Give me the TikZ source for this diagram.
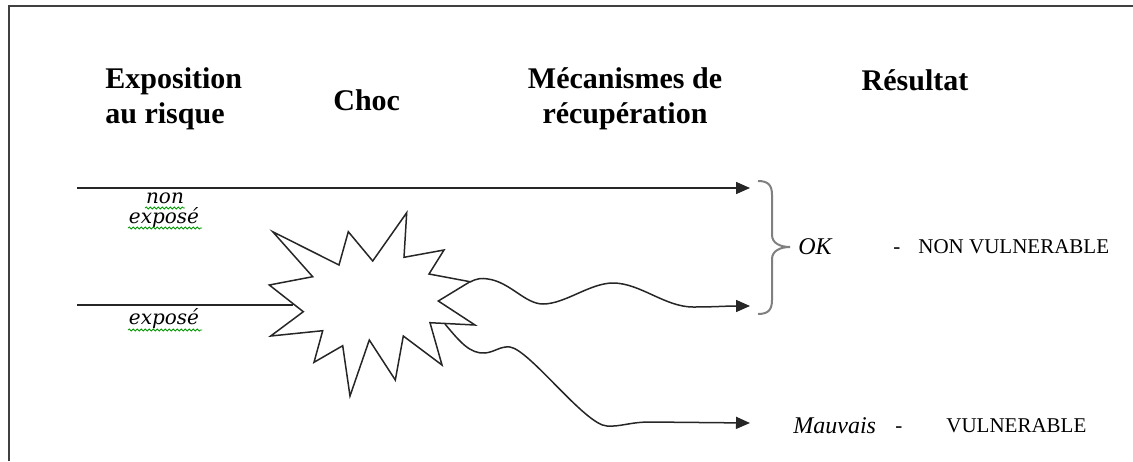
\documentclass[tikz,border=0pt]{standalone}
\usepackage{fontspec}
\setmainfont{Liberation Serif}
\newfontfamily\labfont{DejaVu Serif}
\usetikzlibrary{arrows.meta,decorations.pathmorphing}
\begin{document}
\begin{tikzpicture}[x=0.5pt,y=-0.5pt,
  conn/.style={line width=0.75pt, draw=black!85, line join=miter},
  arr/.style={conn,-{Triangle[length=7pt,width=6pt]}},
  head/.style={font=\bfseries\fontsize{15}{17}\selectfont, inner sep=0},
  lab/.style={font=\labfont\itshape\fontsize{10}{12}\selectfont, inner sep=0},
  res/.style={font=\fontsize{10.5}{12}\selectfont, inner sep=0},
  resit/.style={font=\itshape\fontsize{12}{14}\selectfont, inner sep=0},
  squig/.style={draw=green!60!black, line width=0.4pt, decorate, decoration={snake, amplitude=0.5pt, segment length=2pt}},
  bracestyle/.style={line width=1pt, draw=black!50}]

\useasboundingbox (0,0) rectangle (1133,461);
\draw[line width=1pt, draw=black!75] (8.5,461) -- (8.5,6) -- (1133,6);

% headings
\node[head, anchor=base west] (exp1) at (105,88) {Exposition};
\node[head, anchor=base west] (exp2) at (105,123) {au risque};
\node[head, anchor=base west] (choc) at (333,110) {Choc};
\node[head, anchor=base] (mec1) at (625,88) {Mécanismes de};
\node[head, anchor=base] (mec2) at (625,123) {récupération};
\node[head, anchor=base] (resu) at (915,90) {Résultat};

% coordinates
\coordinate (topS) at (77,188);
\coordinate (topE) at (750,188);
\coordinate (lowS) at (77,305);
\coordinate (starL) at (293,305);
\coordinate (starR1) at (470,282);
\coordinate (starR2) at (445,324);
\coordinate (okE) at (750,306);
\coordinate (badE) at (750,423);

% star
\draw[conn] (303.3,311.7) -- (270.7,336) -- (322.7,330.7) -- (314,362.3) -- (342.7,345.7)
  -- (350,396) -- (369.3,340) -- (395.3,380) -- (403.3,336) -- (442,365) -- (430,322.7)
  -- (475,325) -- (438.3,301) -- (470,281.7) -- (429,274) -- (444,250) -- (404,257.3)
  -- (406.7,212.7) -- (372.7,261) -- (348.3,231.7) -- (339,265) -- (272.7,231.7)
  -- (312.7,276.7) -- (269.3,285) -- cycle;

% connectors
\draw[arr] (topS) -- (topE);
\draw[conn] (lowS) -- (starL);
\draw[arr] (starR1) .. controls (478,278) and (482,278) .. (488,279)
  .. controls (510,282) and (525,304) .. (543,304)
  .. controls (565,304) and (590,283) .. (613,283)
  .. controls (640,283) and (665,307) .. (693,307)
  .. controls (715,307) and (725,306) .. (okE);
\draw[arr] (starR2) .. controls (460,342) and (470,354) .. (485,353)
  .. controls (495,352) and (500,346) .. (510,347)
  .. controls (530,350) and (585,425) .. (607,426)
  .. controls (620,427) and (630,422) .. (650,422) -- (badE);

% brace
\coordinate (braceTip) at (790,247);
\draw[bracestyle] (758,181) .. controls (768,181) and (772,185) .. (772,195) -- (772,235)
  .. controls (772,243) and (780,247) .. (braceTip)
  .. controls (780,247) and (772,251) .. (772,259) -- (772,300)
  .. controls (772,310) and (768,314) .. (758,314);

% labels
\node[lab, anchor=base] (non) at (165,203) {non};
\node[lab, anchor=base] (expA) at (164,223) {exposé};
\node[lab, anchor=base] (expB) at (164,324) {exposé};
\draw[squig] (145,208) -- (185,208);
\draw[squig] (128,228) -- (202,228);
\draw[squig] (128,330) -- (202,330);

% results
\node[resit, anchor=base west] (ok) at (798,254) {OK};
\node[res, anchor=base west] (d1) at (893,253) {-};
\node[res, anchor=base west] (nv) at (918,253) {NON VULNERABLE};
\node[resit, anchor=base west] (mv) at (793,433) {Mauvais};
\node[res, anchor=base west] (d2) at (895,432) {-};
\node[res, anchor=base west] (vu) at (946,432) {VULNERABLE};
\end{tikzpicture}
\end{document}
